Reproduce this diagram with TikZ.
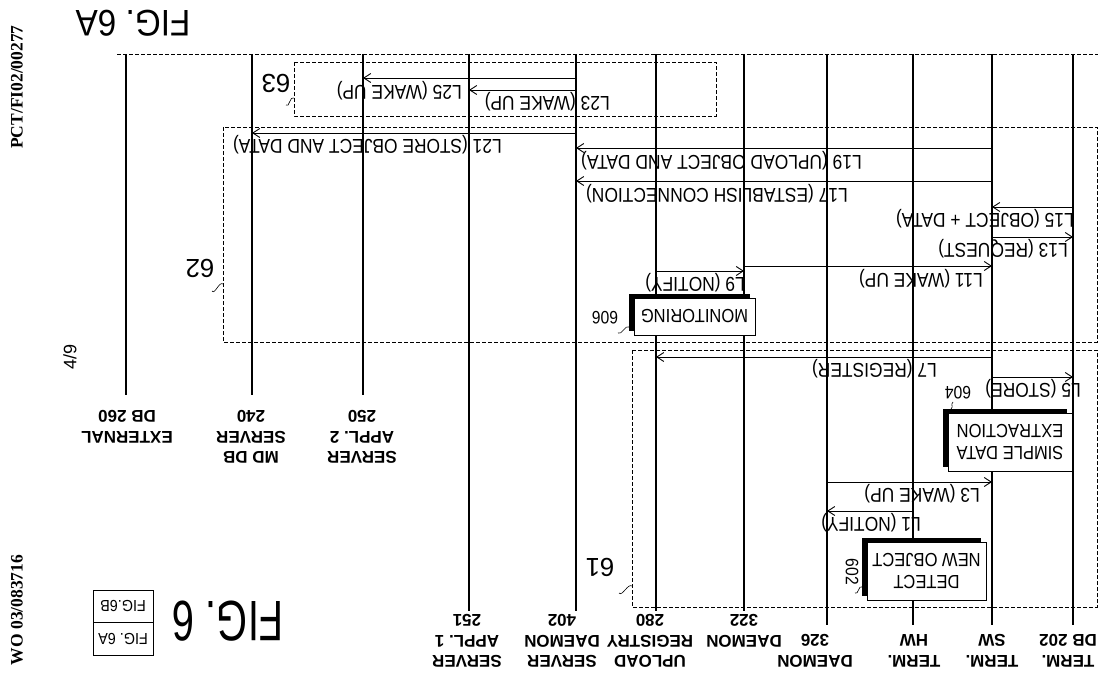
\documentclass[tikz,border=0pt]{standalone}
\usepackage{fontspec}
\setmainfont{Liberation Sans}
\newfontfamily\narrowfont[FakeStretch=0.87]{Liberation Sans}
\newfontfamily\figfont[FakeStretch=0.9]{Liberation Sans}
\newfontfamily\tallfont[FakeStretch=0.7]{Liberation Sans}
\newfontfamily\hdrfont{Liberation Serif}
\usetikzlibrary{arrows.meta}
\begin{document}
\begin{tikzpicture}[x=1pt,y=-1pt,
  life/.style={line width=1.2pt},
  msg/.style={line width=0.9pt,-{Straight Barb[length=7pt,width=9pt,line width=0.9pt]}},
  grp/.style={line width=0.8pt,dash pattern=on 4pt off 2pt},
  txt/.style={rotate=180,inner sep=0pt,font=\narrowfont\fontsize{20}{22}\selectfont},
  lbl/.style={txt,anchor=west},
  actor/.style={rotate=180,inner sep=0pt,align=center,font=\bfseries\fontsize{17}{20.5}\selectfont},
  proc/.style={txt,draw,fill=white,line width=0.9pt,align=center,font=\narrowfont\fontsize{19}{22}\selectfont},
  shade/.style={fill=black},
  refnum/.style={txt,font=\narrowfont\fontsize{18}{19}\selectfont},
  grpnum/.style={txt,font=\fontsize{26}{28}\selectfont},
  lead/.style={line width=0.6pt},
  hdr/.style={rotate=90,inner sep=0pt,font=\hdrfont\bfseries\fontsize{17.5}{17.5}\selectfont},
  figbox/.style={rotate=180,draw,line width=0.8pt,minimum width=60,minimum height=32.5,inner sep=0pt,
    font=\figfont\fontsize{16}{17}\selectfont},
]
\useasboundingbox (0,0) rectangle (1104,682);

% header texts
\node[hdr] (pct) at (17,87) {PCT/FI02/00277};
\node[hdr] (wo) at (17,610) {WO 03/083716};
\node[rotate=90,inner sep=0pt,font=\fontsize{18}{18}\selectfont] (pg) at (70,357) {4/9};

% figure titles
\node[rotate=180,inner sep=0pt,font=\figfont\fontsize{37}{37}\selectfont] (figA) at (133,23) {FIG. 6A};
\node[rotate=180,inner sep=0pt,font=\tallfont\fontsize{57}{57}\selectfont] (fig) at (228,621) {FIG. 6};
\node[figbox] (fb) at (123,606.5) {FIG.6B};
\node[figbox] (fa) at (123,639) {FIG. 6A};

% cut line
\coordinate (cutL) at (117,54);
\coordinate (cutR) at (1098,54);
\draw[grp] (cutL) -- (cutR);

% group boxes
\draw[grp] (294,62) rectangle (716,116);
\draw[grp] (223,127) rectangle (1097,342);
\draw[grp] (632,350) rectangle (1097,607);

% lifeline tops
\foreach \n/\x in {EX/126,MD/252,A2/363,A1/469,SD/576,UR/656,DC/744,DN/827,HW/913,SW/992,DB/1073}
  \coordinate (\n) at (\x,54);
% lifeline bottoms
\foreach \n/\x/\y in {EX/126/395,MD/252/395,A2/363/395,A1/469/611,SD/576/611,UR/656/611,DC/744/611,DN/827/625,HW/913/625,SW/992/625,DB/1073/625}
  \coordinate (\n b) at (\x,\y);

% actor labels
\node[actor] (lDB) at (1068,651) {TERM.\\DB 202};
\node[actor] (lSW) at (992,651) {TERM.\\SW};
\node[actor] (lHW) at (914,651) {TERM.\\HW};
\node[actor] (lDN) at (815,651) {DAEMON\\326};
\node[actor] (lDC) at (744,631) {DAEMON\\322};
\node[actor] (lUR) at (650,641) {UPLOAD\\REGISTRY\\280};
\node[actor] (lSD) at (562,641) {SERVER\\DAEMON\\402};
\node[actor] (lA1) at (467,641) {SERVER\\APPL. 1\\251};
\node[actor] (lA2) at (362,437) {SERVER\\APPL. 2\\250};
\node[actor] (lMD) at (251,437) {MD DB\\SERVER\\240};
\node[actor] (lEX) at (127,427) {EXTERNAL\\DB 260};

% lifelines
\foreach \n in {EX,MD,A2,A1,SD,UR,DC,DN,HW,SW,DB}
  \draw[life] (\n) -- (\n b);

% process boxes with shadows
\fill[shade] (629,294) rectangle (750,331);
\node[proc,minimum width=121,minimum height=37] (mon) at (694.5,316.5) {MONITORING};
\fill[shade] (943,409) rectangle (1067,467);
\node[proc,minimum width=124,minimum height=58] (sde) at (1010,442) {SIMPLE DATA\\EXTRACTION};
\fill[shade] (862,538) rectangle (981,596);
\node[proc,minimum width=119,minimum height=58] (det) at (926.5,571) {DETECT\\NEW OBJECT};

% message levels
\foreach \n/\y in {25/78,23/90,21/133,19/148,17/181,15/207,13/237,11/266,9/271,7/357,5/377,3/482,1/511}
  \coordinate (y\n) at (0,\y);

\draw[msg] (SD |- y25) -- (A2 |- y25);
\draw[msg] (SD |- y23) -- (A1 |- y23);
\draw[msg] (SD |- y21) -- (MD |- y21);
\draw[msg] (SW |- y19) -- (SD |- y19);
\draw[msg] (SW |- y17) -- (SD |- y17);
\draw[msg] (DB |- y15) -- (SW |- y15);
\draw[msg] (SW |- y13) -- (DB |- y13);
\draw[msg] (DC |- y11) -- (SW |- y11);
\draw[msg] (UR |- y9) -- (DC |- y9);
\draw[msg] (SW |- y7) -- (UR |- y7);
\draw[msg] (SW |- y5) -- (DB |- y5);
\draw[msg] (DN |- y3) -- (SW |- y3);
\draw[msg] (HW |- y1) -- (DN |- y1);

% message labels
\node[lbl] (t25) at (462,91) {L25 (WAKE UP)};
\node[lbl] (t23) at (610,102) {L23 (WAKE UP)};
\node[lbl] (t21) at (502,145) {L21 (STORE OBJECT AND DATA)};
\node[lbl] (t19) at (862,161) {L19 (UPLOAD OBJECT AND DATA)};
\node[lbl] (t17) at (848,194) {L17 (ESTABLISH CONNECTION)};
\node[lbl] (t15) at (1074,219) {L15 (OBJECT + DATA)};
\node[lbl] (t13) at (1068,249) {L13 (REQUEST)};
\node[lbl] (t11) at (983,279) {L11 (WAKE UP)};
\node[lbl] (t9) at (745,283) {L9 (NOTIFY)};
\node[lbl] (t7) at (937,369) {L7 (REGISTER)};
\node[lbl] (t5) at (1081,389) {L5 (STORE)};
\node[lbl] (t3) at (980,494) {L3 (WAKE UP)};
\node[lbl] (t1) at (921,523) {L1 (NOTIFY)};

% reference numerals
\node[grpnum] (g61) at (600,567) {61};
\draw[lead] (619,593) .. controls +(3,4) and +(-4,-3) .. (632,586);
\node[grpnum] (g62) at (200,268) {62};
\draw[lead] (212,291) .. controls +(3,4) and +(-4,-3) .. (223,284);
\node[grpnum] (g63) at (276,83) {63};
\draw[lead] (286,105) .. controls +(3,4) and +(-4,-3) .. (294,98);
\node[refnum] (r606) at (605,318) {606};
\draw[lead] (618,333) .. controls +(3,3) and +(-3,-3) .. (629,327);
\node[refnum] (r604) at (958,393) {604};
\draw[lead] (953,402) .. controls +(-3,3) and +(3,-3) .. (951,409);
\node[refnum,rotate=90] (r602) at (852,572) {602};
\draw[lead] (855,593) .. controls +(3,3) and +(-3,-3) .. (862,587);
\end{tikzpicture}
\end{document}
